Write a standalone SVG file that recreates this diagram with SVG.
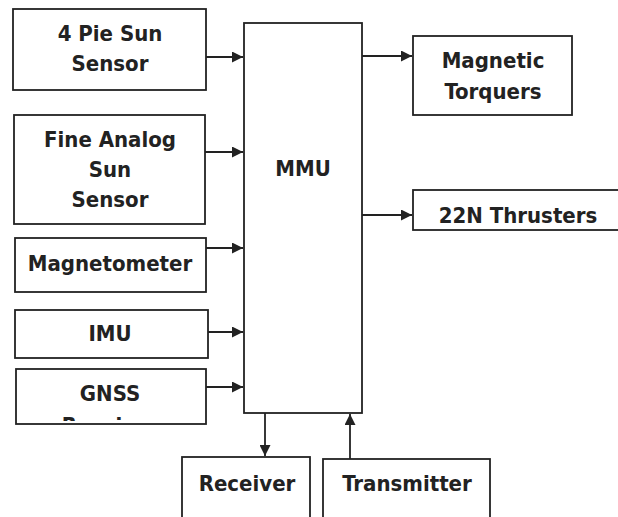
<svg xmlns="http://www.w3.org/2000/svg" width="618" height="517" viewBox="0 0 618 517">
<style>
.box{fill:#fff;stroke:#222;stroke-width:1.8}
.t{font-family:"DejaVu Sans Condensed","DejaVu Sans",sans-serif;font-weight:bold;font-size:22px;fill:#222;text-anchor:middle}
.c{stroke:#222;stroke-width:1.8;fill:none;marker-end:url(#ah)}
</style>
<defs>
<marker id="ah" viewBox="0 0 10 10" refX="10" refY="5" markerWidth="12" markerHeight="11" markerUnits="userSpaceOnUse" orient="auto">
<path d="M0,0 L10,5 L0,10 z" fill="#222"/>
</marker>
<clipPath id="gclip"><rect x="16" y="369" width="190" height="52"/></clipPath>
</defs>
<rect width="618" height="517" fill="#fff"/>
<g id="sun4">
<rect class="box" x="13" y="9" width="193" height="81"/>
<text class="t" x="110" y="41">4 Pie Sun</text>
<text class="t" x="110" y="71">Sensor</text>
</g>
<g id="fass">
<rect class="box" x="14" y="115" width="191" height="109"/>
<text class="t" x="110" y="147">Fine Analog</text>
<text class="t" x="110" y="177">Sun</text>
<text class="t" x="110" y="207">Sensor</text>
</g>
<g id="mag">
<rect class="box" x="15" y="238" width="191" height="54"/>
<text class="t" x="110" y="271">Magnetometer</text>
</g>
<g id="imu">
<rect class="box" x="15" y="310" width="193" height="48"/>
<text class="t" x="110" y="341">IMU</text>
</g>
<g id="gnss">
<rect class="box" x="16" y="369" width="190" height="55"/>
<text class="t" x="110" y="401">GNSS</text>
<text class="t" x="110" y="433" clip-path="url(#gclip)">Receiver</text>
</g>
<g id="mmu">
<rect class="box" x="244" y="23" width="118" height="390"/>
<text class="t" x="303" y="176">MMU</text>
</g>
<g id="torq">
<rect class="box" x="413" y="36" width="159" height="79"/>
<text class="t" x="493" y="68">Magnetic</text>
<text class="t" x="493" y="99">Torquers</text>
</g>
<g id="thr">
<rect class="box" x="413" y="190" width="215" height="40"/>
<text class="t" x="518" y="223">22N Thrusters</text>
</g>
<g id="rx">
<rect class="box" x="182" y="457" width="128" height="70"/>
<text class="t" x="247" y="491">Receiver</text>
</g>
<g id="tx">
<rect class="box" x="323" y="459" width="167" height="70"/>
<text class="t" x="407" y="491">Transmitter</text>
</g>
<g id="connectors">
<path class="c" d="M206,57 H243"/>
<path class="c" d="M205,152 H243"/>
<path class="c" d="M206,248 H243"/>
<path class="c" d="M208,332 H243"/>
<path class="c" d="M206,387 H243"/>
<path class="c" d="M362,56 H412"/>
<path class="c" d="M362,215 H412"/>
<path class="c" d="M265,413 V456"/>
<path class="c" d="M350,459 V414"/>
</g>
</svg>
